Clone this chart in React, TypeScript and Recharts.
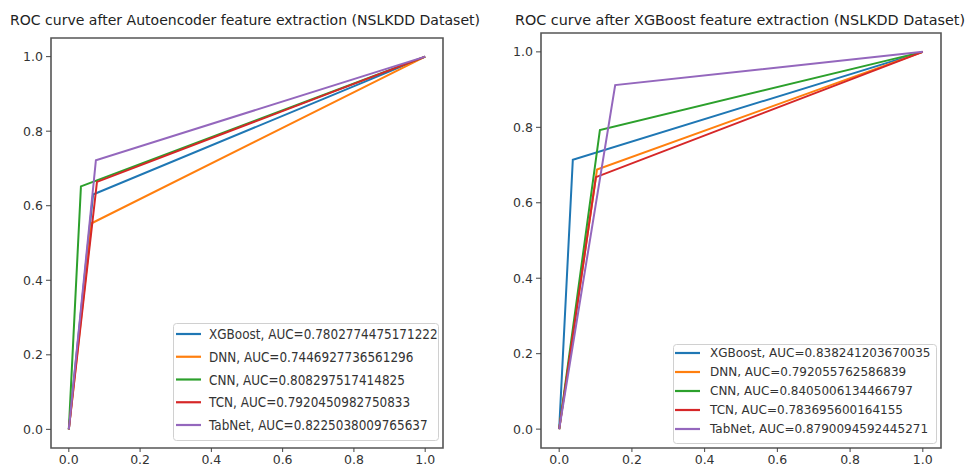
import React from 'react';
import { LineChart, Line, XAxis, YAxis, ReferenceArea, Legend } from 'recharts';

const models = ['XGBoost', 'DNN', 'CNN', 'TCN', 'TabNet'];
const colors = ['#1f77b4', '#ff7f0e', '#2ca02c', '#d62728', '#9467bd'];
const ticks = [0, 0.2, 0.4, 0.6, 0.8, 1.0];

const leftTitle = 'ROC curve after Autoencoder feature extraction (NSLKDD Dataset)';
const leftAuc = ['0.7802774475171222', '0.7446927736561296', '0.808297517414825', '0.7920450982750833', '0.8225038009765637'];
const leftKneeFpr = [0.068, 0.064, 0.034, 0.079, 0.076];
const leftKneeTpr = [0.630, 0.553, 0.652, 0.664, 0.722];

const rightTitle = 'ROC curve after XGBoost feature extraction (NSLKDD Dataset)';
const rightAuc = ['0.838241203670035', '0.792055762586839', '0.8405006134466797', '0.783695600164155', '0.8790094592445271'];
const rightKneeFpr = [0.0375, 0.104, 0.112, 0.101, 0.154];
const rightKneeTpr = [0.714, 0.688, 0.793, 0.668, 0.912];

const FONT = 'DejaVu Sans, sans-serif';

type PanelProps = {
  left: number;
  width: number;
  marginTop: number;
  marginRight: number;
  auc: string[];
  fpr: number[];
  tpr: number[];
  legend: { x: number; y: number; w: number; h: number; rowStart: number; rowGap: number; sampleX: number; textX: number; fontSize: number; scaleX: number };
};

function Panel({ left, width, marginTop, marginRight, auc, fpr, tpr, legend }: PanelProps) {
  const series = models.map((m, i) => ({
    name: `${m}, AUC=${auc[i]}`,
    color: colors[i],
    data: [
      { fpr: 0, tpr: 0 },
      { fpr: fpr[i], tpr: tpr[i] },
      { fpr: 1, tpr: 1 },
    ],
  }));
  const renderLegend = () => (
    <svg width={legend.w + 2} height={legend.h + 2} style={{ display: 'block' }}>
      <rect x={0.5} y={0.5} width={legend.w} height={legend.h} rx={3} ry={3} fill="#fff" fillOpacity={0.8} stroke="#d0d0d0" strokeWidth={1} />
      {series.map((s, i) => {
        const y = legend.rowStart + i * legend.rowGap;
        return (
          <g key={s.name}>
            <line x1={legend.sampleX} x2={legend.sampleX + 25} y1={y} y2={y} stroke={s.color} strokeWidth={2.2} />
            <text
              x={0}
              y={y}
              dy="0.36em"
              fontFamily={FONT}
              fontSize={legend.fontSize}
              fill="#333"
              transform={`translate(${legend.textX},0) scale(${legend.scaleX},1)`}
            >
              {s.name}
            </text>
          </g>
        );
      })}
    </svg>
  );
  return (
    <div style={{ position: 'absolute', left, top: 0 }}>
      <LineChart width={width} height={473} margin={{ top: marginTop, right: marginRight, bottom: 0, left: 0 }}>
        <XAxis
          type="number"
          dataKey="fpr"
          domain={[-0.05, 1.05]}
          ticks={ticks}
          allowDataOverflow
          tickFormatter={(v: number) => v.toFixed(1)}
          height={25}
          tickSize={4}
          tickMargin={3}
          axisLine={false}
          tickLine={{ stroke: '#444' }}
          tick={{ fontFamily: FONT, fontSize: 12.5, fill: '#333' }}
        />
        <YAxis
          type="number"
          dataKey="tpr"
          domain={[-0.05, 1.05]}
          ticks={ticks}
          allowDataOverflow
          tickFormatter={(v: number) => v.toFixed(1)}
          width={51}
          tickSize={5}
          tickMargin={3}
          axisLine={false}
          tickLine={{ stroke: '#444' }}
          tick={{ fontFamily: FONT, fontSize: 12.5, fill: '#333' }}
        />
        <ReferenceArea x1={-0.05} x2={1.05} y1={-0.05} y2={1.05} fill="none" stroke="#555" strokeWidth={1.6} ifOverflow="visible" />
        {series.map((s) => (
          <Line
            key={s.name}
            data={s.data}
            dataKey="tpr"
            name={s.name}
            type="linear"
            stroke={s.color}
            strokeWidth={2}
            dot={false}
            activeDot={false}
            isAnimationActive={false}
          />
        ))}
        <Legend
          layout="horizontal"
          verticalAlign="middle"
          align="center"
          content={renderLegend}
          wrapperStyle={{ position: 'absolute', left: legend.x, top: legend.y, width: legend.w + 2, height: legend.h + 2, margin: 0, padding: 0 }}
        />
      </LineChart>
    </div>
  );
}

export default function App() {
  return (
    <div style={{ position: 'absolute', left: 0, top: 0, width: 967, height: 473, background: '#fff', overflow: 'hidden' }}>
      <Panel
        left={0}
        width={480}
        marginTop={38}
        marginRight={37}
        auc={leftAuc}
        fpr={leftKneeFpr}
        tpr={leftKneeTpr}
        legend={{ x: 173, y: 323, w: 265, h: 117, rowStart: 11, rowGap: 22.75, sampleX: 3, textX: 36, fontSize: 14, scaleX: 0.86 }}
      />
      <Panel
        left={490}
        width={477}
        marginTop={33}
        marginRight={26}
        auc={rightAuc}
        fpr={rightKneeFpr}
        tpr={rightKneeTpr}
        legend={{ x: 183, y: 344, w: 263, h: 99, rowStart: 9, rowGap: 19, sampleX: 2, textX: 37, fontSize: 12, scaleX: 1 }}
      />
      <svg width={967} height={40} style={{ position: 'absolute', left: 0, top: 0 }}>
        <text x={245} y={25} textAnchor="middle" fontFamily={FONT} fontSize={14} fill="#222" textLength={470} lengthAdjust="spacingAndGlyphs">
          {leftTitle}
        </text>
        <text x={740} y={25} textAnchor="middle" fontFamily={FONT} fontSize={13.5} fill="#222" textLength={450} lengthAdjust="spacingAndGlyphs">
          {rightTitle}
        </text>
      </svg>
    </div>
  );
}
